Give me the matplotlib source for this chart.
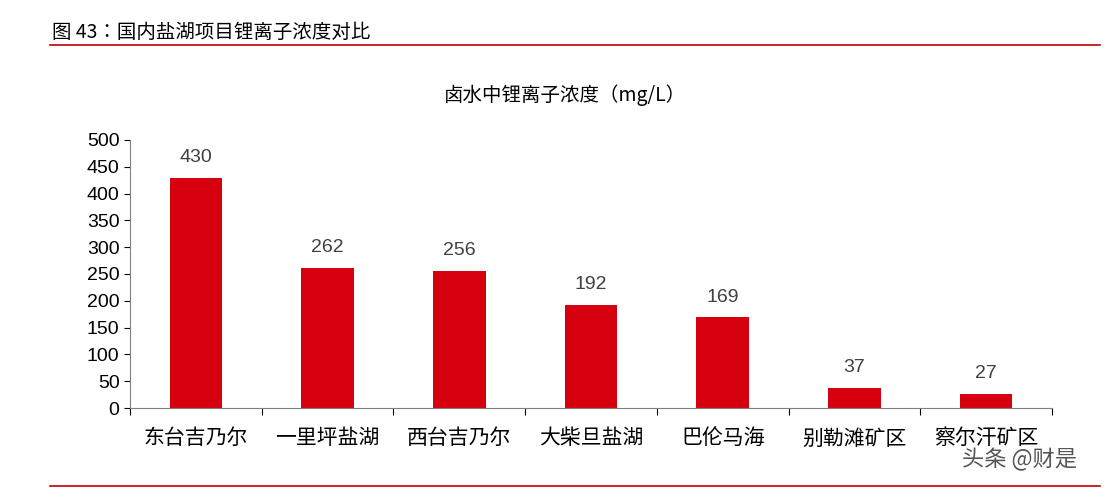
import matplotlib
matplotlib.use("Agg")
import matplotlib.pyplot as plt
from matplotlib.lines import Line2D
from matplotlib import font_manager as fm
import glob

cjk = None
for p in glob.glob("/usr/share/fonts/**/*", recursive=True) + glob.glob("/usr/local/share/fonts/**/*", recursive=True):
    if "CJK" in p and ("Regular" in p or p.endswith(".ttc")):
        try:
            fm.fontManager.addfont(p)
            cjk = fm.FontProperties(fname=p).get_name()
            if "SC" in p or cjk:
                break
        except Exception:
            pass
names = ([cjk] if cjk else []) + ["Noto Sans CJK SC", "Noto Sans CJK JP", "DejaVu Sans"]
plt.rcParams["font.family"] = names

categories = ["东台吉乃尔", "一里坪盐湖", "西台吉乃尔", "大柴旦盐湖", "巴伦马海", "别勒滩矿区", "察尔汗矿区"]
values = [430, 262, 256, 192, 169, 37, 27]
yticks = [0, 50, 100, 150, 200, 250, 300, 350, 400, 450, 500]

W, H = 1120, 490
fig = plt.figure(figsize=(W/100, H/100), dpi=100)
ax = fig.add_axes([130/W, 1-408/H, (1052-130)/W, (408-140)/H])

red = "#D7000F"
x = list(range(len(categories)))
ax.bar(x, values, width=0.4, color=red)
for xi, v in zip(x, values):
    ax.text(xi, v + 22, str(v), ha="center", va="bottom", fontsize=14, color="#404040", family="Liberation Sans")

ax.set_xlim(-0.5, len(categories) - 0.5)
ax.set_ylim(0, 500)
ax.set_yticks(yticks)
ax.tick_params(axis="y", labelsize=14, length=4, direction="out", colors="black")
for t in ax.get_yticklabels():
    t.set_family("Liberation Sans")
ax.set_xticks([i - 0.5 for i in range(len(categories) + 1)], minor=False)
ax.set_xticklabels([])
ax.tick_params(axis="x", length=5, direction="out")
ax.set_xticks(x, minor=True)
ax.set_xticklabels(categories, minor=True, fontsize=15)
ax.tick_params(axis="x", which="minor", length=0, pad=14)
for s in ["top", "right"]:
    ax.spines[s].set_visible(False)
ax.spines["left"].set_color("#808080")
ax.spines["bottom"].set_color("#808080")

fig.text(565/W, 1-95/H, "卤水中锂离子浓度（mg/L）", ha="center", va="center", fontsize=14)
fig.text(52/W, 1-32/H, "图 43：国内盐湖项目锂离子浓度对比", ha="left", va="center", fontsize=14)
fig.add_artist(Line2D([50/W, 1100/W], [1-45/H, 1-45/H], color="#C00000", lw=1.2))
fig.add_artist(Line2D([50/W, 1100/W], [1-486/H, 1-486/H], color="#C00000", lw=1.2))
fig.text(1020/W, 1-460/H, "头条 @财是", ha="center", va="center", fontsize=16, color="#555555")

fig.savefig("out.png", dpi=100)
